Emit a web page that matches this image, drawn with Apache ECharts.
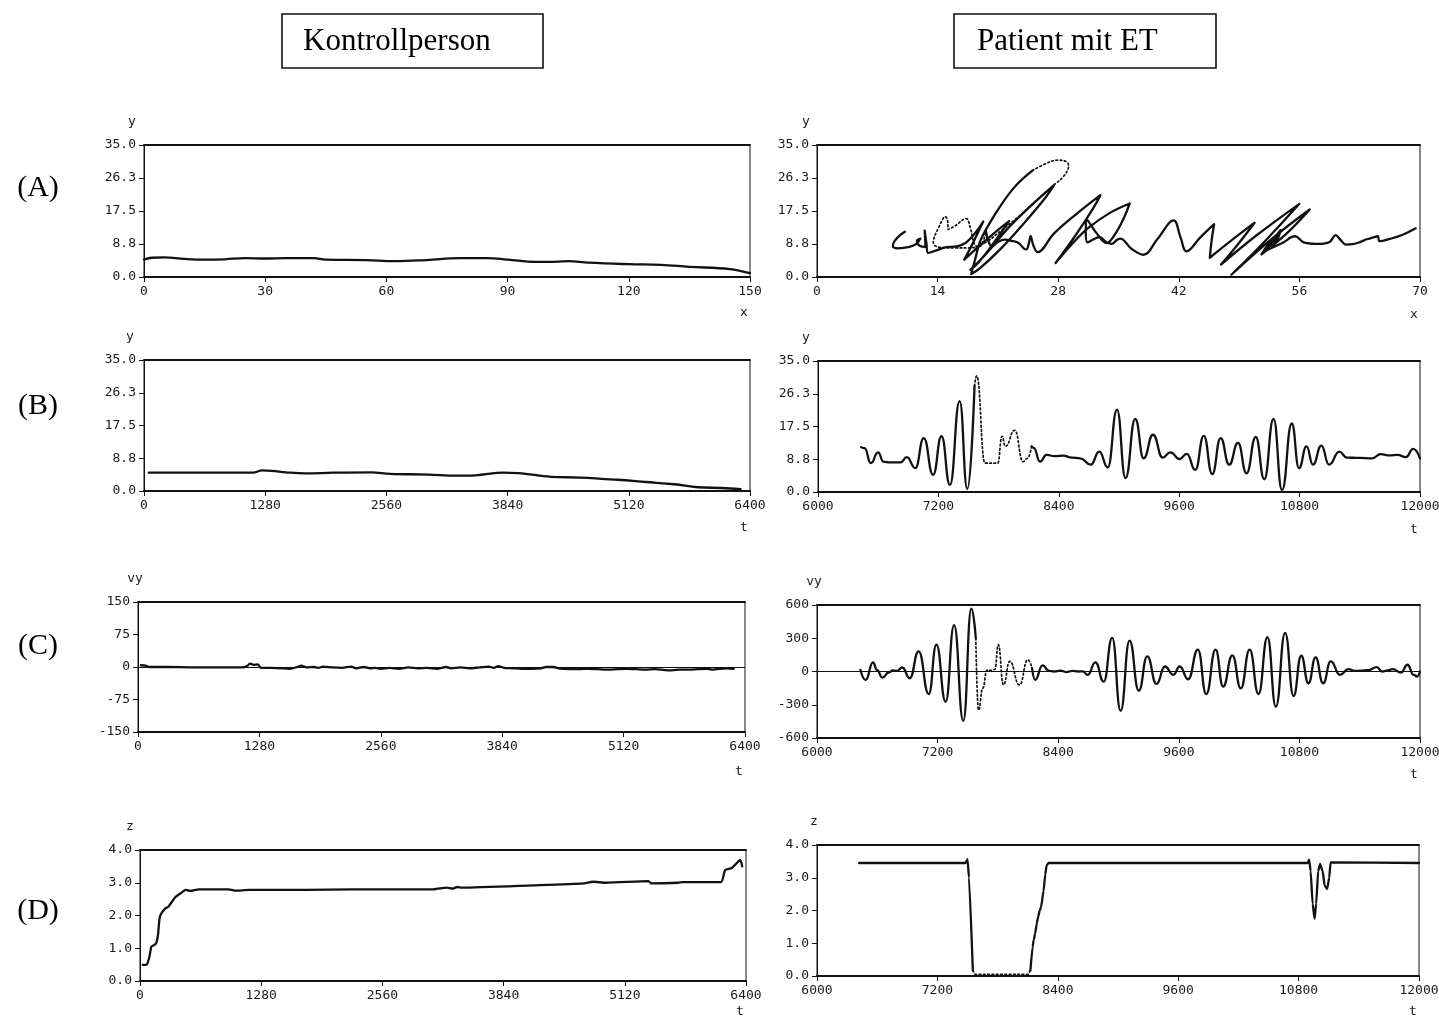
<!DOCTYPE html>
<html>
<head>
<meta charset="utf-8">
<script src="https://cdn.jsdelivr.net/npm/echarts/dist/echarts.min.js"></script>
<style>
  html, body { margin: 0; padding: 0; background: #fff; }
  #chart { width: 1439px; height: 1018px; }
</style>
</head>
<body>
<div id="chart"></div>
<script>
// ---------- tick labels ----------
const ticksY35   = ['0.0', '8.8', '17.5', '26.3', '35.0'];
const ticksX150  = ['0', '30', '60', '90', '120', '150'];
const ticksX70   = ['0', '14', '28', '42', '56', '70'];
const ticksT6400 = ['0', '1280', '2560', '3840', '5120', '6400'];
const ticksT12k  = ['6000', '7200', '8400', '9600', '10800', '12000'];
const ticksV150  = ['-150', '-75', '0', '75', '150'];
const ticksV600  = ['-600', '-300', '0', '300', '600'];
const ticksZ4    = ['0.0', '1.0', '2.0', '3.0', '4.0'];

// ---------- Kontrollperson ----------
// (A) y over x
const ctrlAx = [0, 2, 5, 10, 15, 20, 25, 30, 35, 42, 45, 55, 62, 70, 78, 85, 90, 97, 100, 105, 110, 120, 128, 135, 145, 150];
const ctrlAy = [4.6, 5.1, 5.2, 4.8, 4.6, 4.7, 5.0, 4.9, 5.0, 5.0, 4.6, 4.5, 4.2, 4.5, 5.0, 5.0, 4.6, 4.0, 4.0, 4.2, 3.8, 3.4, 3.2, 2.7, 2.1, 1.0];
// (B) y over t
const ctrlBt = [50, 1150, 1250, 1350, 1500, 1700, 2000, 2400, 2600, 3000, 3300, 3500, 3800, 3950, 4300, 4600, 5000, 5300, 5600, 5850, 6100, 6300];
const ctrlBy = [4.9, 4.9, 5.5, 5.4, 5.0, 4.7, 4.9, 5.0, 4.6, 4.4, 4.1, 4.2, 4.9, 4.8, 3.8, 3.6, 3.0, 2.4, 1.8, 1.0, 0.8, 0.5];
// (C) vy over t
const ctrlCt = [30, 80, 120, 300, 600, 900, 1100, 1150, 1180, 1220, 1260, 1300, 1400, 1500, 1600, 1680, 1720, 1780, 1850, 1900,
                1950, 2050, 2150, 2250, 2300, 2380, 2450, 2500, 2560, 2650, 2750, 2850, 2950, 3050, 3150, 3250, 3300, 3400, 3500, 3600,
                3700, 3750, 3800, 3860, 3950, 4050, 4150, 4250, 4300, 4380, 4450, 4550, 4650, 4750, 4850, 4950, 5050, 5150, 5250, 5350,
                5450, 5550, 5600, 5700, 5800, 5900, 6000, 6050, 6100, 6200, 6280];
const ctrlCv = [4, 3, 0, 0, -1, -1, -1, 2, 8, 5, 6, -2, -2, -3, -4, 0, 3, -1, 0, -2,
                1, -1, -2, 1, -3, 0, -3, -2, -4, -2, -4, -1, -3, -2, -4, 0, -3, -1, -3, -1,
                1, -2, 2, -2, -3, -4, -4, -3, 0, 0, -4, -5, -5, -4, -5, -6, -5, -4, -5, -6,
                -5, -7, -8, -6, -6, -5, -4, -6, -5, -3, -4];
// (D) z over t
const ctrlDt = [30, 70, 100, 120, 150, 170, 190, 210, 260, 300, 370, 440, 480, 530, 620, 935, 1000, 1160, 1500, 2000,
                2500, 3100, 3240, 3300, 3350, 3400, 4150, 4690, 4780, 4920, 5370, 5400, 5685, 5730, 6135, 6180, 6250, 6315, 6340, 6360];
const ctrlDz = [0.49, 0.5, 0.74, 1.05, 1.1, 1.15, 1.4, 1.96, 2.2, 2.27, 2.55, 2.7, 2.78, 2.75, 2.8, 2.8, 2.76, 2.78, 2.78, 2.79,
                2.8, 2.8, 2.85, 2.82, 2.87, 2.85, 2.92, 2.98, 3.03, 3.0, 3.05, 2.98, 3.0, 3.02, 3.02, 3.39, 3.45, 3.64, 3.7, 3.5];

// ---------- Patient mit ET (pen down = solid, pen up = dotted) ----------
// (A) writing trace y over x
const patAdown1x = [10.2, 9.6, 9.0, 8.8, 9.4, 10.6, 11.5, 12.0, 11.6, 11.9, 12.6, 12.5, 12.7, 12.9, 13.8, 15.0, 16.2, 17.5, 19.3, 18.2,
                    17.1, 18.5, 20.5, 22.3, 20.5, 18.8, 17.8, 19.7, 22.0, 24.7, 27.5, 26.3, 24.0, 21.2, 18.9, 17.9, 18.4, 19.0, 20.5, 22.8, 25.0];
const patAdown1y = [12.0, 11.0, 9.5, 8.2, 7.6, 7.9, 8.7, 10.2, 9.6, 8.3, 8.0, 12.3, 9.0, 6.4, 7.0, 7.9, 8.1, 9.5, 14.7, 9.5,
                    4.6, 7.5, 11.5, 14.8, 9.0, 4.0, 1.9, 6.3, 12.5, 18.6, 24.3, 20.4, 14.2, 7.2, 2.3, 0.8, 5.0, 9.8, 16.0, 23.5, 28.2];
const patAupx = [25.0, 26.5, 28.0, 29.0, 29.2, 28.6, 27.6, 25.5, 23.6, 21.5, 19.8, 18.5, 17.5, 16.0, 14.5, 13.5, 14.2, 14.9, 15.2, 15.2,
                 16.0, 17.3, 17.8, 18.3, 18.8, 19.3, 19.6];
const patAupy = [28.2, 30.0, 31.0, 30.5, 29.5, 26.6, 24.6, 20.4, 16.4, 12.5, 9.5, 8.0, 7.7, 7.7, 7.8, 9.0, 13.5, 16.0, 14.0, 12.6,
                 13.5, 15.5, 13.0, 8.6, 8.0, 9.5, 12.2];
const patAdown2x = [19.6, 19.9, 20.3, 21.0, 21.8, 22.6, 23.4, 24.0, 24.3, 24.6, 24.8, 25.1, 25.6, 27.5, 30.0, 32.9, 32.0, 30.0, 27.7, 29.5,
                    31.5, 34.0, 36.3, 35.6, 34.5, 33.6, 32.5, 31.3, 31.2, 31.4, 32.3, 32.8, 33.5, 34.2, 34.8, 35.2, 36.5, 37.9, 39.5, 41.4,
                    42.2, 42.9, 44.5, 46.1, 45.8, 45.6, 48.0, 50.8, 48.8, 46.9, 51.0, 56.0, 52.0, 48.1, 53.0, 57.2, 54.5, 51.6, 52.5, 53.8,
                    53.2, 52.2, 53.0, 53.8, 53.0, 52.4, 54.0, 55.5, 56.5, 58.2, 59.5, 60.2, 60.8, 61.4, 62.2, 63.1, 63.8, 64.6, 65.1, 65.3,
                    66.5, 68.0, 69.5];
const patAdown2y = [12.2, 9.5, 8.1, 9.3, 9.9, 9.6, 9.0, 7.6, 7.3, 9.0, 10.8, 8.5, 6.6, 11.5, 16.5, 21.7, 18.0, 11.0, 3.7, 8.5,
                    13.0, 17.0, 19.5, 15.5, 11.0, 9.0, 11.5, 15.3, 12.0, 9.2, 10.2, 10.6, 9.4, 8.8, 9.8, 10.2, 7.5, 5.9, 10.0, 15.0,
                    10.5, 6.8, 10.5, 14.0, 9.5, 5.1, 9.5, 14.4, 8.5, 3.3, 11.0, 19.4, 9.5, 0.6, 10.5, 17.9, 11.5, 6.0, 9.0, 12.2,
                    9.0, 7.3, 10.0, 12.4, 9.0, 7.3, 9.0, 10.8, 9.2, 8.8, 9.3, 11.1, 9.8, 8.6, 8.7, 9.3, 10.0, 10.5, 10.8, 9.5,
                    10.1, 11.2, 12.9];
// (B) y over t
const patBdown1t = [6430, 6464, 6527, 6599, 6653, 6717, 6822, 6885, 6970, 7054, 7147, 7231, 7315, 7412, 7488, 7560];
const patBdown1y = [12.0, 11.7, 7.7, 10.6, 8.1, 7.9, 7.9, 9.3, 6.4, 14.4, 4.6, 14.9, 1.9, 24.3, 0.8, 28.3];
const patBupt = [7560, 7581, 7665, 7792, 7834, 7868, 7960, 8045, 8087, 8129];
const patBupy = [28.3, 31.0, 7.7, 7.7, 14.9, 12.2, 16.5, 8.1, 9.0, 12.2];
const patBdown2t = [8129, 8150, 8213, 8277, 8360, 8445, 8530, 8614, 8719, 8803, 8888, 8980, 9065, 9162, 9246, 9339, 9436, 9512, 9604, 9676,
                    9760, 9845, 9929, 10013, 10098, 10186, 10271, 10363, 10448, 10540, 10625, 10722, 10794, 10869, 10933, 11017, 11093, 11197, 11270, 11400,
                    11523, 11607, 11700, 11776, 11860, 11932, 12000];
const patBdown2y = [12.2, 11.8, 8.1, 9.9, 9.6, 9.7, 9.2, 9.0, 7.3, 10.8, 6.6, 22.0, 3.7, 19.5, 9.0, 15.3, 9.2, 10.6, 8.8, 10.2,
                    5.9, 15.0, 4.8, 14.4, 7.3, 13.1, 5.0, 14.7, 3.4, 19.5, 0.5, 18.3, 6.4, 12.2, 7.3, 12.4, 7.3, 10.8, 9.2, 9.1,
                    9.0, 10.1, 9.8, 9.9, 9.3, 11.5, 9.0];
// (C) vy over t
const patCdown1t = [6432, 6483, 6558, 6596, 6650, 6713, 6755, 6797, 6848, 6923, 7011, 7112, 7188, 7280, 7364, 7456, 7536, 7580];
const patCdown1v = [15, -76, 82, 15, -55, -9, 9, 6, 36, -61, 182, -203, 242, -273, 418, -445, 567, 300];
const patCupt = [7580, 7607, 7650, 7690, 7740, 7770, 7804, 7855, 7918, 8014, 8098, 8140];
const patCupv = [300, -348, -150, 10, 10, 20, 242, -121, 91, -121, 106, 30];
const patCdown2t = [8140, 8170, 8245, 8308, 8360, 8420, 8480, 8540, 8600, 8644, 8694, 8770, 8853, 8937, 9021, 9110, 9202, 9286, 9378, 9462,
                    9546, 9609, 9693, 9790, 9873, 9966, 10041, 10133, 10217, 10305, 10393, 10482, 10566, 10658, 10742, 10818, 10890, 10961, 11036, 11112,
                    11204, 11288, 11350, 11414, 11480, 11570, 11624, 11680, 11728, 11812, 11875, 11938, 11971, 12000];
const patCdown2v = [30, -76, 55, 6, 0, 8, -5, 5, 0, 2, -30, 82, -91, 303, -355, 279, -173, 136, -112, 45,
                    -30, 45, -70, 197, -203, 197, -136, 145, -152, 197, -203, 309, -318, 348, -221, 142, -106, 127, -106, 91,
                    -30, 21, 5, 8, 12, 39, 0, 10, 21, -9, 61, -30, -45, 0];
// (D) z over t
const patDdown1t = [6420, 7480, 7500, 7515, 7553];
const patDdown1z = [3.45, 3.45, 3.57, 3.0, 0.17];
const patDupt = [7553, 7575, 8105, 8127];
const patDupz = [0.17, 0.05, 0.05, 0.17];
const patDdown2t = [8127, 8148, 8160, 8174, 8190, 8204, 8220, 8233, 8258, 8275, 8288, 8308,
                    10890, 10905, 10920, 10940, 10959, 10975, 10995, 11014, 11040, 11060, 11085, 11105, 11119, 12000];
const patDdown2z = [0.17, 0.88, 1.1, 1.29, 1.6, 1.8, 2.0, 2.1, 2.6, 3.1, 3.37, 3.45,
                    3.45, 3.55, 3.2, 2.2, 1.75, 2.2, 3.2, 3.42, 3.2, 2.75, 2.66, 3.0, 3.47, 3.45];

// ---------- building blocks ----------
const INK = '#111';
const LABEL_INK = '#1a1a1a';
const MONO = '"DejaVu Sans Mono", monospace';
const SERIF = '"Liberation Serif", "Times New Roman", serif';

function pairs(xs, ys) { return xs.map((x, i) => [x, ys[i]]); }

function scaleOf(labels) {
  const min = parseFloat(labels[0]);
  const max = parseFloat(labels[labels.length - 1]);
  const interval = (max - min) / (labels.length - 1);
  return {
    min, max, interval,
    formatter: v => labels[Math.round((v - min) / interval)] ?? ''
  };
}

const option = {
  animation: false,
  backgroundColor: '#fff',
  grid: [], xAxis: [], yAxis: [], series: [],
  graphic: []
};

function panel(cfg) {
  const [left, top, width, height] = cfg.box;
  const g = option.grid.length;
  option.grid.push({
    left, top, width, height,
    show: true, borderColor: INK, borderWidth: 1, backgroundColor: 'transparent',
    containLabel: false, outerBoundsMode: 'none'
  });
  const sx = scaleOf(cfg.xTicks), sy = scaleOf(cfg.yTicks);
  const xi = option.xAxis.length;
  option.xAxis.push({
    type: 'value', gridIndex: g, position: 'bottom',
    min: sx.min, max: sx.max, interval: sx.interval,
    axisLine: { show: true, onZero: false, lineStyle: { color: INK, width: 2 } },
    axisTick: { show: true, inside: false, length: 5, lineStyle: { color: INK, width: 1 } },
    axisLabel: { formatter: sx.formatter, fontFamily: MONO, fontSize: 13, color: LABEL_INK, margin: 8,
                 showMinLabel: true, showMaxLabel: true, hideOverlap: false },
    splitLine: { show: false }
  });
  option.xAxis.push({
    type: 'value', gridIndex: g, position: 'top',
    min: sx.min, max: sx.max, interval: sx.interval,
    axisLine: { show: true, onZero: false, lineStyle: { color: INK, width: 2 } },
    axisTick: { show: false }, axisLabel: { show: false }, splitLine: { show: false }
  });
  const yi = option.yAxis.length;
  option.yAxis.push({
    type: 'value', gridIndex: g,
    min: sy.min, max: sy.max, interval: sy.interval,
    axisLine: { show: true, onZero: false, lineStyle: { color: INK, width: 1 } },
    axisTick: { show: true, inside: false, length: 5, lineStyle: { color: INK, width: 1 } },
    axisLabel: { formatter: sy.formatter, fontFamily: MONO, fontSize: 13, color: LABEL_INK, margin: 8,
                 showMinLabel: true, showMaxLabel: true, hideOverlap: false },
    splitLine: { show: false }
  });
  // axis names: quantity above the y axis, variable under the right end of the x axis
  option.graphic.push({
    type: 'text', silent: true, x: left - cfg.yNameShift, y: top - 23,
    style: { text: cfg.yName, font: '13px ' + MONO, fill: LABEL_INK, align: 'center', verticalAlign: 'middle' }
  });
  option.graphic.push({
    type: 'text', silent: true, x: left + width - 6, y: top + height + cfg.xNameDrop,
    style: { text: cfg.xName, font: '13px ' + MONO, fill: LABEL_INK, align: 'center', verticalAlign: 'middle' }
  });
  cfg.lines.forEach(l => {
    option.series.push({
      type: 'line', xAxisIndex: xi, yAxisIndex: yi,
      data: l.data, symbol: 'none', showSymbol: false,
      smooth: l.smooth ?? 0, smoothMonotone: l.monotone ? 'x' : undefined,
      clip: true, silent: true,
      lineStyle: l.dotted
        ? { color: INK, width: 1.7, type: [1.7, 2.6], cap: 'round' }
        : { color: INK, width: 2.3, type: 'solid', join: 'round', cap: 'round' }
    });
  });
  if (cfg.zeroLine) {
    option.series.push({
      type: 'line', xAxisIndex: xi, yAxisIndex: yi, data: [], silent: true,
      markLine: { symbol: ['none', 'none'], silent: true, label: { show: false },
                  lineStyle: { color: INK, width: 1, type: 'solid' }, data: [{ yAxis: 0 }] }
    });
  }
}

// ---------- Kontrollperson column ----------
panel({ box: [144, 145, 606, 132], xTicks: ticksX150, yTicks: ticksY35, xName: 'x', yName: 'y', yNameShift: 12, xNameDrop: 36,
        lines: [{ data: pairs(ctrlAx, ctrlAy), smooth: 0.4 }] });
panel({ box: [144, 360, 606, 131], xTicks: ticksT6400, yTicks: ticksY35, xName: 't', yName: 'y', yNameShift: 14, xNameDrop: 37,
        lines: [{ data: pairs(ctrlBt, ctrlBy), smooth: 0.4 }] });
panel({ box: [138, 602, 607, 130], xTicks: ticksT6400, yTicks: ticksV150, xName: 't', yName: 'vy', yNameShift: 3, xNameDrop: 40,
        zeroLine: true, lines: [{ data: pairs(ctrlCt, ctrlCv), smooth: 0.3 }] });
panel({ box: [140, 850, 606, 131], xTicks: ticksT6400, yTicks: ticksZ4, xName: 't', yName: 'z', yNameShift: 10, xNameDrop: 31,
        lines: [{ data: pairs(ctrlDt, ctrlDz), smooth: 0.2 }] });

// ---------- Patient mit ET column ----------
panel({ box: [817, 145, 603, 132], xTicks: ticksX70, yTicks: ticksY35, xName: 'x', yName: 'y', yNameShift: 11, xNameDrop: 38,
        lines: [
          { data: pairs(patAdown1x, patAdown1y), smooth: 0.4 },
          { data: pairs(patAupx, patAupy), smooth: 0.4, dotted: true },
          { data: pairs(patAdown2x, patAdown2y), smooth: 0.4 }
        ] });
panel({ box: [818, 361, 602, 131], xTicks: ticksT12k, yTicks: ticksY35, xName: 't', yName: 'y', yNameShift: 12, xNameDrop: 38,
        lines: [
          { data: pairs(patBdown1t, patBdown1y), smooth: 0.5, monotone: true },
          { data: pairs(patBupt, patBupy), smooth: 0.5, monotone: true, dotted: true },
          { data: pairs(patBdown2t, patBdown2y), smooth: 0.5, monotone: true }
        ] });
panel({ box: [817, 605, 603, 133], xTicks: ticksT12k, yTicks: ticksV600, xName: 't', yName: 'vy', yNameShift: 3, xNameDrop: 37,
        zeroLine: true,
        lines: [
          { data: pairs(patCdown1t, patCdown1v), smooth: 0.5, monotone: true },
          { data: pairs(patCupt, patCupv), smooth: 0.5, monotone: true, dotted: true },
          { data: pairs(patCdown2t, patCdown2v), smooth: 0.5, monotone: true }
        ] });
panel({ box: [817, 845, 602, 131], xTicks: ticksT12k, yTicks: ticksZ4, xName: 't', yName: 'z', yNameShift: 3, xNameDrop: 36,
        lines: [
          { data: pairs(patDdown1t, patDdown1z), smooth: 0.15, monotone: true },
          { data: pairs(patDupt, patDupz), dotted: true },
          { data: pairs(patDdown2t, patDdown2z), smooth: 0.15, monotone: true }
        ] });

// ---------- column headers and row letters ----------
const headers = [
  { text: 'Kontrollperson', box: [282, 14, 261, 54], textX: 303 },
  { text: 'Patient mit ET', box: [954, 14, 262, 54], textX: 977 }
];
headers.forEach(h => {
  option.graphic.push({
    type: 'rect', silent: true,
    shape: { x: h.box[0], y: h.box[1], width: h.box[2], height: h.box[3] },
    style: { fill: '#fff', stroke: INK, lineWidth: 1.6 }
  });
  option.graphic.push({
    type: 'text', silent: true, x: h.textX, y: h.box[1] + h.box[3] / 2 + 1,
    style: { text: h.text, font: '31px ' + SERIF, fill: '#000', align: 'left', verticalAlign: 'middle' }
  });
});
const rowLetters = [['(A)', 188], ['(B)', 406], ['(C)', 646], ['(D)', 911]];
rowLetters.forEach(([t, y]) => {
  option.graphic.push({
    type: 'text', silent: true, x: 38, y: y,
    style: { text: t, font: '30px ' + SERIF, fill: '#000', align: 'center', verticalAlign: 'middle' }
  });
});

const chart = echarts.init(document.getElementById('chart'), null, { renderer: 'canvas' });
chart.setOption(option);
</script>
</body>
</html>
